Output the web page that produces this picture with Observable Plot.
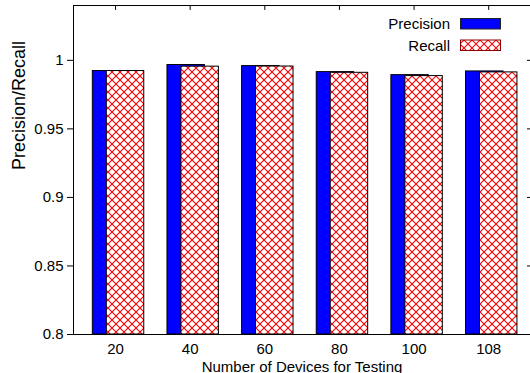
<!DOCTYPE html>
<html>
<head>
<meta charset="utf-8">
<script src="https://cdn.jsdelivr.net/npm/d3@7"></script>
<script src="https://cdn.jsdelivr.net/npm/@observablehq/plot@0.6"></script>
<style>
  html, body { margin: 0; padding: 0; background: #fff; }
  #chart svg { display: block; }
</style>
</head>
<body>
<div id="chart"></div>
<script>
// ---- data ----
const categories = ["20", "40", "60", "80", "100", "108"];
const precision = [0.9922, 0.9966, 0.9958, 0.9914, 0.9892, 0.9919];
const recall    = [0.9922, 0.9954, 0.9955, 0.9909, 0.9885, 0.9912];
const yTicks = [0.8, 0.85, 0.9, 0.95, 1];
const seriesNames = ["Precision", "Recall"];
const xLabel = "Number of Devices for Testing";
const yLabel = "Precision/Recall";

// ---- build table ----
const rows = categories.map((c, i) => ({i, cat: c, p: precision[i], r: recall[i]}));
const idx = categories.map((_, i) => i);

const xMin = -0.563, xMax = 5.56;
const yMin = 0.8, yMax = 1.04;
const FONT = "'Liberation Sans', Arial, Helvetica, sans-serif";

const plot = Plot.plot({
  width: 530,
  height: 373,
  marginLeft: 73,
  marginRight: 0,
  marginTop: 5,
  marginBottom: 39,
  style: {fontFamily: FONT, fontSize: "15px", background: "#fff", color: "#000"},
  x: {type: "linear", domain: [xMin, xMax]},
  y: {domain: [yMin, yMax]},
  marks: [
    // bars
    Plot.rect(rows, {x1: d => d.i - 0.304, x2: d => d.i + 0.197, y1: yMin, y2: "p",
      fill: "#0000ff", stroke: "#000", strokeWidth: 1}),
    Plot.rect(rows, {x1: d => d.i - 0.117, x2: d => d.i + 0.385, y1: yMin, y2: "r",
      fill: "url(#xhatch)", stroke: "#000", strokeWidth: 1}),
    // border
    Plot.ruleX([xMin], {stroke: "#000"}),
    Plot.ruleY([yMin, yMax], {stroke: "#000"}),
    // mirrored ticks
    Plot.ruleX(idx, {x: d => d, y1: yMax, y2: yMax - 0.0036, stroke: "#000"}),
    Plot.ruleY(yTicks, {y: d => d, x1: xMax - 0.04, x2: xMax, stroke: "#000"}),
    // axes
    Plot.axisY({ticks: yTicks, tickSize: 6, tickPadding: 4, tickFormat: d => String(d), label: null, fontSize: 15}),
    Plot.axisX({ticks: idx, tickSize: 0, tickPadding: 9, tickFormat: i => categories[i], label: null, fontSize: 15}),
    // axis titles
    Plot.text([xLabel], {text: d => d, frameAnchor: "bottom", lineAnchor: "bottom", dy: 37, fontSize: 15}),
    Plot.text([yLabel], {text: d => d, frameAnchor: "left", dx: -54, rotate: -90, fontSize: 18})
  ]
});

document.getElementById("chart").appendChild(plot);

// pattern definition
const svg = d3.select(plot);
const defs = svg.insert("defs", ":first-child");
const pat = defs.append("pattern")
  .attr("id", "xhatch")
  .attr("patternUnits", "userSpaceOnUse")
  .attr("width", 8).attr("height", 8);
pat.append("rect").attr("width", 8).attr("height", 8).attr("fill", "#fff");
pat.append("path").attr("d", "M0,0L8,8M8,0L0,8").attr("stroke", "#ff0000").attr("stroke-width", 1.1).attr("fill", "none");

// legend (inside plot, top right)
const lg = svg.append("g").attr("font-family", FONT).attr("font-size", 15);
const legendFill = ["#0000ff", "url(#xhatch)"];
const legendStroke = ["#222", "#8b0000"];
seriesNames.forEach((name, k) => {
  const cy = 24 + k * 21.5;
  lg.append("text").attr("x", 450).attr("y", cy).attr("dy", "0.35em")
    .attr("text-anchor", "end").attr("fill", "#000").text(name);
  lg.append("rect").attr("x", 460.5).attr("y", cy - 5.5).attr("width", 40).attr("height", 10.5)
    .attr("fill", legendFill[k]).attr("stroke", legendStroke[k]).attr("stroke-width", 1);
});
</script>
</body>
</html>
